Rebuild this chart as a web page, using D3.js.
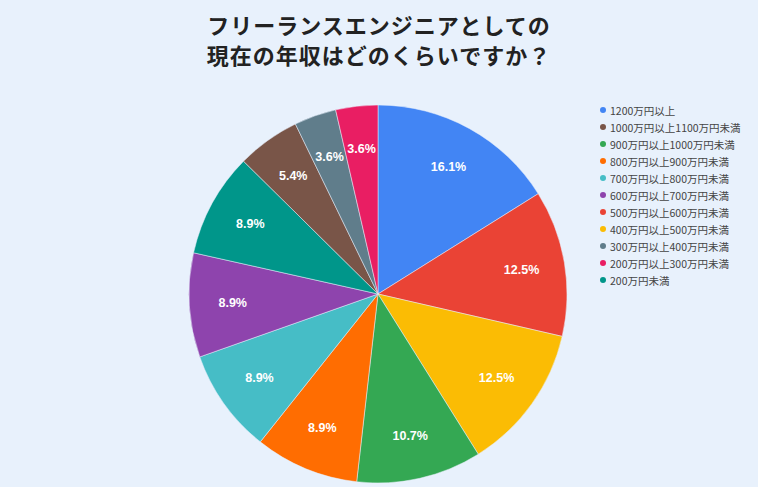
<!DOCTYPE html>
<html lang="ja">
<head>
    <meta charset="UTF-8">
    <title>フリーランスエンジニアの年収</title>
    <script src="https://d3js.org/d3.v7.min.js"></script>
    <style>
        body {
            margin: 0;
            padding: 0;
            background-color: #e8f1fc;
            font-family: "Noto Sans CJK JP", "Noto Sans", sans-serif;
        }

        .title {
            font-size: 22px;
            font-weight: bold;
            letter-spacing: 1px;
            fill: #222;
            text-anchor: middle;
        }

        .slice-label {
            font-family: Arial, "Liberation Sans", sans-serif;
            font-size: 12.5px;
            font-weight: bold;
            fill: #fff;
            text-anchor: middle;
            dominant-baseline: central;
        }

        .legend-text {
            font-size: 10.5px;
            fill: #444;
            dominant-baseline: central;
        }
    </style>
</head>
<body>
    <script>
        const width = 758, height = 487;

        // data, in drawing order (clockwise from 12 o'clock)
        const categories = [
            "1200万円以上",
            "500万円以上600万円未満",
            "400万円以上500万円未満",
            "900万円以上1000万円未満",
            "800万円以上900万円未満",
            "700万円以上800万円未満",
            "600万円以上700万円未満",
            "200万円未満",
            "1000万円以上1100万円未満",
            "300万円以上400万円未満",
            "200万円以上300万円未満"
        ];
        const values = [16.1, 12.5, 12.5, 10.7, 8.9, 8.9, 8.9, 8.9, 5.4, 3.6, 3.6];
        const colors = ["#4285f4", "#ea4335", "#fbbc04", "#34a853", "#ff6d01", "#46bdc6",
                        "#8e44ad", "#00968a", "#795548", "#607d8b", "#e91e63"];

        // legend order
        const legendOrder = [
            "1200万円以上",
            "1000万円以上1100万円未満",
            "900万円以上1000万円未満",
            "800万円以上900万円未満",
            "700万円以上800万円未満",
            "600万円以上700万円未満",
            "500万円以上600万円未満",
            "400万円以上500万円未満",
            "300万円以上400万円未満",
            "200万円以上300万円未満",
            "200万円未満"
        ];

        const titleLines = ["フリーランスエンジニアとしての", "現在の年収はどのくらいですか？"];

        const svg = d3.select("body").append("svg")
            .attr("width", width)
            .attr("height", height);

        svg.append("rect")
            .attr("width", width)
            .attr("height", height)
            .attr("fill", "#e8f1fc");

        // title
        svg.selectAll(".title")
            .data(titleLines)
            .enter()
            .append("text")
            .attr("class", "title")
            .attr("x", 379)
            .attr("y", (d, i) => 34 + i * 30)
            .text(d => d);

        const color = d3.scaleOrdinal().domain(categories).range(colors);

        const cx = 378, cy = 294, radius = 189;

        const pie = d3.pie()
            .sort(null)
            .value(d => d.value);

        const data = categories.map((c, i) => ({ name: c, value: values[i] }));
        const arcs = pie(data);

        const arc = d3.arc().innerRadius(0).outerRadius(radius);
        const labelArc = d3.arc().innerRadius(radius * 0.77).outerRadius(radius * 0.77);

        const g = svg.append("g").attr("transform", `translate(${cx},${cy})`);

        g.selectAll(".slice")
            .data(arcs)
            .enter()
            .append("path")
            .attr("class", "slice")
            .attr("d", arc)
            .attr("fill", d => color(d.data.name))
            .attr("stroke", "#e8f1fc")
            .attr("stroke-width", 0.5);

        g.selectAll(".slice-label")
            .data(arcs)
            .enter()
            .append("text")
            .attr("class", "slice-label")
            .attr("transform", d => `translate(${labelArc.centroid(d)})`)
            .text(d => d.data.value.toFixed(1) + "%");

        // legend
        const legend = svg.append("g").attr("transform", "translate(603,110)");

        const rows = legend.selectAll(".legend-row")
            .data(legendOrder)
            .enter()
            .append("g")
            .attr("class", "legend-row")
            .attr("transform", (d, i) => `translate(0,${i * 17})`);

        rows.append("circle")
            .attr("r", 3)
            .attr("fill", d => color(d));

        rows.append("text")
            .attr("class", "legend-text")
            .attr("x", 7)
            .attr("y", 0)
            .text(d => d);
    </script>
</body>
</html>
